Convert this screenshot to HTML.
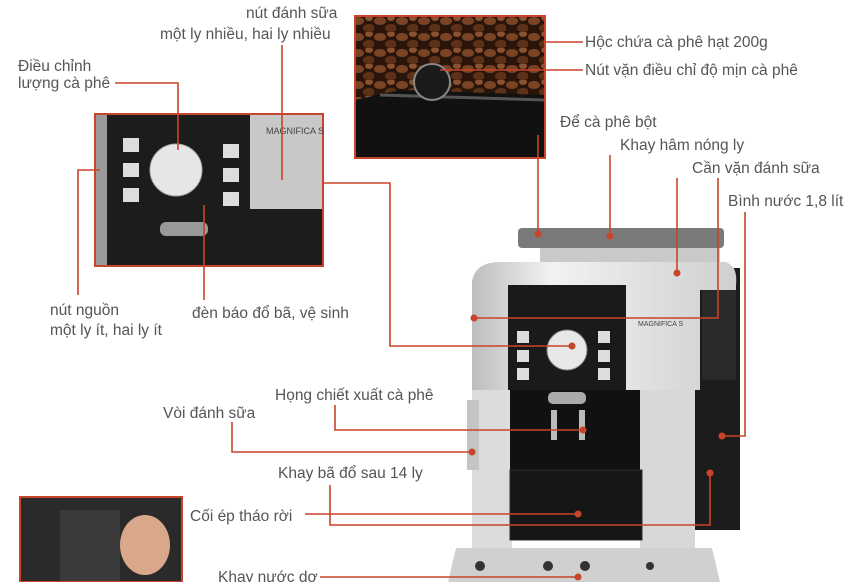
<!DOCTYPE html>
<html><head><meta charset="utf-8"><style>
body{margin:0;width:850px;height:582px;overflow:hidden;background:#fff;font-family:"Liberation Sans",sans-serif}
svg{display:block}
text{font-family:"Liberation Sans","Noto Sans CJK SC",sans-serif;font-size:15.5px;fill:#555}
</style></head><body>
<svg width="850" height="582" viewBox="0 0 850 582">
<defs>
<pattern id="beans" width="22" height="16" patternUnits="userSpaceOnUse">
<rect width="22" height="16" fill="#2a150a"/>
<ellipse cx="6" cy="5" rx="6" ry="4" fill="#7a4424"/>
<ellipse cx="17" cy="12" rx="6" ry="4" fill="#5e3219"/>
<ellipse cx="17" cy="2" rx="4" ry="3" fill="#8a5230"/>
</pattern>
<linearGradient id="silver" x1="0" x2="1"><stop offset="0" stop-color="#bdbdbd"/><stop offset="0.3" stop-color="#f2f2f2"/><stop offset="1" stop-color="#cfcfcf"/></linearGradient>
</defs>
<!-- top bean photo -->
<rect x="355" y="16" width="190" height="142" fill="url(#beans)"/>
<path d="M355 100 L400 90 L545 95 L545 158 L355 158Z" fill="#111"/>
<path d="M380 95 L545 100" stroke="#555" stroke-width="3"/>
<circle cx="432" cy="82" r="18" fill="#1a1a1a" stroke="#888" stroke-width="2"/>
<rect x="355" y="16" width="190" height="142" fill="none" stroke="#c8442a" stroke-width="2"/>
<!-- control panel photo -->
<rect x="95" y="114" width="228" height="152" fill="#1c1c1c"/>
<rect x="250" y="114" width="73" height="95" fill="#c8c8c8"/>
<rect x="95" y="114" width="12" height="152" fill="#9a9a9a"/>
<circle cx="176" cy="170" r="26" fill="#e6e6e6" stroke="#aaa"/>
<g fill="#ddd"><rect x="123" y="138" width="16" height="14"/><rect x="123" y="163" width="16" height="14"/><rect x="123" y="188" width="16" height="14"/>
<rect x="223" y="144" width="16" height="14"/><rect x="223" y="168" width="16" height="14"/><rect x="223" y="192" width="16" height="14"/></g>
<rect x="160" y="222" width="48" height="14" rx="6" fill="#999"/>
<rect x="95" y="114" width="228" height="152" fill="none" stroke="#c8442a" stroke-width="2"/>
<text x="266" y="134" style="font-size:9px;fill:#444">MAGNIFICA S</text>
<!-- bottom-left photo -->
<rect x="20" y="497" width="162" height="85" fill="#2a2a2a"/>
<rect x="60" y="510" width="60" height="72" fill="#3a3a3a"/>
<ellipse cx="145" cy="545" rx="25" ry="30" fill="#d9a78a"/>
<rect x="20" y="497" width="162" height="85" fill="none" stroke="#c8442a" stroke-width="2"/>
<!-- machine -->
<rect x="518" y="228" width="206" height="20" rx="4" fill="#7a7a7a"/>
<rect x="540" y="248" width="180" height="16" fill="#c9c9c9"/>
<rect x="690" y="268" width="50" height="262" fill="#1c1c1c"/>
<path d="M472 282 Q475 262 500 262 L725 262 Q738 265 736 285 L736 290 L700 290 L700 390 L472 390Z" fill="url(#silver)"/>
<rect x="702" y="290" width="34" height="90" fill="#2a2a2a"/>
<rect x="508" y="285" width="118" height="105" fill="#1a1a1a"/>
<rect x="472" y="390" width="40" height="160" fill="#dcdcdc"/>
<rect x="510" y="390" width="132" height="150" fill="#111"/>
<rect x="640" y="390" width="55" height="160" fill="#d8d8d8"/>
<rect x="510" y="470" width="132" height="70" fill="#161616" stroke="#2a2a2a"/>
<circle cx="567" cy="350" r="20" fill="#e8e8e8" stroke="#888"/>
<g fill="#ddd"><rect x="517" y="331" width="12" height="12"/><rect x="517" y="350" width="12" height="12"/><rect x="517" y="368" width="12" height="12"/>
<rect x="598" y="331" width="12" height="12"/><rect x="598" y="350" width="12" height="12"/><rect x="598" y="368" width="12" height="12"/></g>
<rect x="548" y="392" width="38" height="12" rx="5" fill="#aaa"/>
<rect x="551" y="410" width="6" height="30" fill="#bbb"/><rect x="579" y="410" width="6" height="30" fill="#bbb"/>
<rect x="467" y="400" width="12" height="70" fill="#c4c4c4"/>
<text x="638" y="326" style="font-size:7px;fill:#444">MAGNIFICA S</text>
<path d="M448 582 L456 548 L712 548 L720 582Z" fill="#d0d0d0"/>
<g fill="#333"><circle cx="480" cy="566" r="5"/><circle cx="548" cy="566" r="5"/><circle cx="585" cy="566" r="5"/><circle cx="650" cy="566" r="4"/></g>
<!-- connectors -->
<g stroke="#c8442a" stroke-width="1.6" fill="none">
<path d="M545 42 H583"/><path d="M440 70 H583"/>
<path d="M538 135 V234"/><path d="M610 155 V236"/><path d="M677 178 V273"/>
<path d="M718 178 V318 H474"/><path d="M745 212 V436 H722"/>
<path d="M282 45 V180"/>
<path d="M115 83 H178 V150"/>
<path d="M78 295 V170 H100"/>
<path d="M204 205 V300"/>
<path d="M323 183 H390 V346 H572"/>
<path d="M335 405 V430 H583"/>
<path d="M232 422 V452 H472"/>
<path d="M330 485 V525 H710 V473"/>
<path d="M305 514 H578"/>
<path d="M320 577 H578"/>
</g>
<g fill="#c8442a">
<circle cx="538" cy="234" r="3.5"/><circle cx="610" cy="236" r="3.5"/><circle cx="677" cy="273" r="3.5"/>
<circle cx="474" cy="318" r="3.5"/><circle cx="722" cy="436" r="3.5"/><circle cx="572" cy="346" r="3.5"/>
<circle cx="583" cy="430" r="3.5"/><circle cx="472" cy="452" r="3.5"/><circle cx="710" cy="473" r="3.5"/>
<circle cx="578" cy="514" r="3.5"/><circle cx="578" cy="577" r="3.5"/>
</g>
<!-- labels -->
<text x="585" y="47">Hộc chứa cà phê hạt  200g</text>
<text x="585" y="75">Nút vặn điều chỉ độ mịn cà phê</text>
<text x="560" y="127">Để cà phê bột</text>
<text x="620" y="150">Khay hâm nóng ly</text>
<text x="692" y="173">Cần vặn đánh sữa</text>
<text x="728" y="206">Bình nước 1,8 lít</text>
<text x="246" y="18">nút đánh sữa</text>
<text x="160" y="39">một ly nhiều, hai ly nhiều</text>
<text x="18" y="71">Điều chỉnh</text>
<text x="18" y="88">lượng cà phê</text>
<text x="50" y="315">nút nguồn</text>
<text x="50" y="335">một ly ít, hai ly ít</text>
<text x="192" y="318">đèn báo đổ bã, vệ sinh</text>
<text x="275" y="400">Họng chiết xuất cà phê</text>
<text x="163" y="418">Vòi đánh sữa</text>
<text x="278" y="478">Khay bã đổ sau 14 ly</text>
<text x="190" y="521">Cối ép tháo rời</text>
<text x="218" y="582">Khay nước dơ</text>
</svg>
</body></html>
